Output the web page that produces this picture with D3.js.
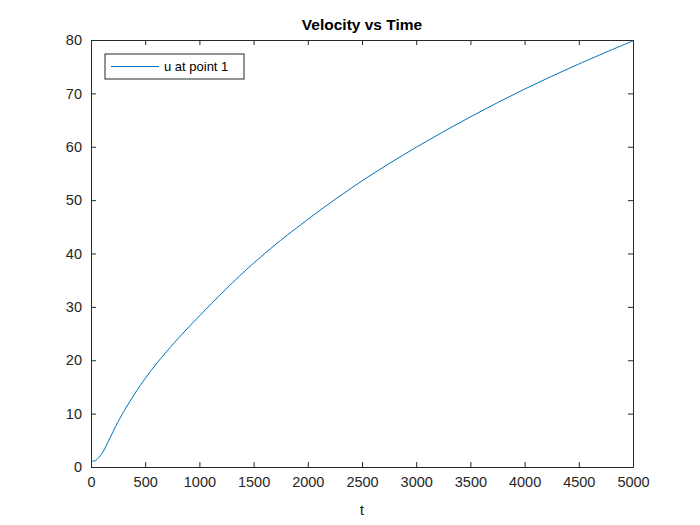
<!DOCTYPE html>
<html>
<head>
<meta charset="UTF-8">
<script src="https://d3js.org/d3.v7.min.js"></script>
<style>
  body { margin: 0; background: #fff; }
  svg { font-family: 'Liberation Sans', Arial, sans-serif; }
</style>
</head>
<body>
<svg id="chart" width="700" height="525"></svg>
<script>
// values
const times = [0, 40, 100, 160, 250, 350, 500, 700, 1000, 1500, 2000, 2500, 3000, 3500, 4000, 4500, 5000];
const velocity = [1.1, 1.2, 2.5, 4.8, 8.5, 12.0, 16.6, 21.7, 28.3, 38.2, 46.4, 53.6, 59.9, 65.6, 70.8, 75.5, 79.85];
const xTicks = [0, 500, 1000, 1500, 2000, 2500, 3000, 3500, 4000, 4500, 5000];
const yTicks = [0, 10, 20, 30, 40, 50, 60, 70, 80];

const svg = d3.select('#chart');
const margin = { top: 40, right: 67, bottom: 58, left: 91 };
const width = 700 - margin.left - margin.right;
const height = 525 - margin.top - margin.bottom;
const ink = '#262626';

const g = svg.append('g').attr('transform', `translate(${margin.left},${margin.top})`);

const x = d3.scaleLinear().domain([0, 5000]).range([0, width]);
const y = d3.scaleLinear().domain([0, 80]).range([height, 0]);
const fmt = d3.format('d');

// axes with inward ticks, MATLAB style
function styleAxis(sel) {
  sel.select('.domain').attr('stroke', ink);
  sel.selectAll('.tick line').attr('stroke', ink);
  sel.selectAll('.tick text').attr('fill', ink).style('font-size', '14.5px');
}

g.append('g').attr('transform', `translate(0,${height})`)
  .call(d3.axisBottom(x).tickValues(xTicks).tickFormat(fmt).tickSizeInner(-5).tickSizeOuter(0).tickPadding(10))
  .call(styleAxis);
g.append('g')
  .call(d3.axisLeft(y).tickValues(yTicks).tickFormat(fmt).tickSizeInner(-5).tickSizeOuter(0).tickPadding(9))
  .call(styleAxis);
g.append('g')
  .call(d3.axisTop(x).tickValues(xTicks).tickSizeInner(-5).tickSizeOuter(0).tickFormat(''))
  .call(styleAxis);
g.append('g').attr('transform', `translate(${width},0)`)
  .call(d3.axisRight(y).tickValues(yTicks).tickSizeInner(-5).tickSizeOuter(0).tickFormat(''))
  .call(styleAxis);

// curve
const line = d3.line()
  .x((d, i) => x(times[i]))
  .y(d => y(d))
  .curve(d3.curveCatmullRom.alpha(0.5));

g.append('path')
  .datum(velocity)
  .attr('fill', 'none')
  .attr('stroke', '#0072BD')
  .attr('stroke-width', 1)
  .attr('d', line);

// title and label
svg.append('text')
  .attr('x', margin.left + width / 2)
  .attr('y', 30)
  .attr('text-anchor', 'middle')
  .attr('fill', '#000')
  .style('font-size', '15.5px')
  .style('font-weight', 'bold')
  .text('Velocity vs Time');

svg.append('text')
  .attr('x', margin.left + width / 2)
  .attr('y', 515)
  .attr('text-anchor', 'middle')
  .attr('fill', ink)
  .style('font-size', '15.5px')
  .text('t');

// legend
const lg = g.append('g').attr('transform', 'translate(14,14)');
lg.append('rect')
  .attr('width', 139).attr('height', 25)
  .attr('fill', '#fff').attr('stroke', ink).attr('stroke-width', 1);
lg.append('line')
  .attr('x1', 6).attr('x2', 54).attr('y1', 12.5).attr('y2', 12.5)
  .attr('stroke', '#0072BD');
lg.append('text')
  .attr('x', 59).attr('y', 17)
  .attr('fill', '#000')
  .style('font-size', '13px')
  .text('u at point 1');
</script>
</body>
</html>
